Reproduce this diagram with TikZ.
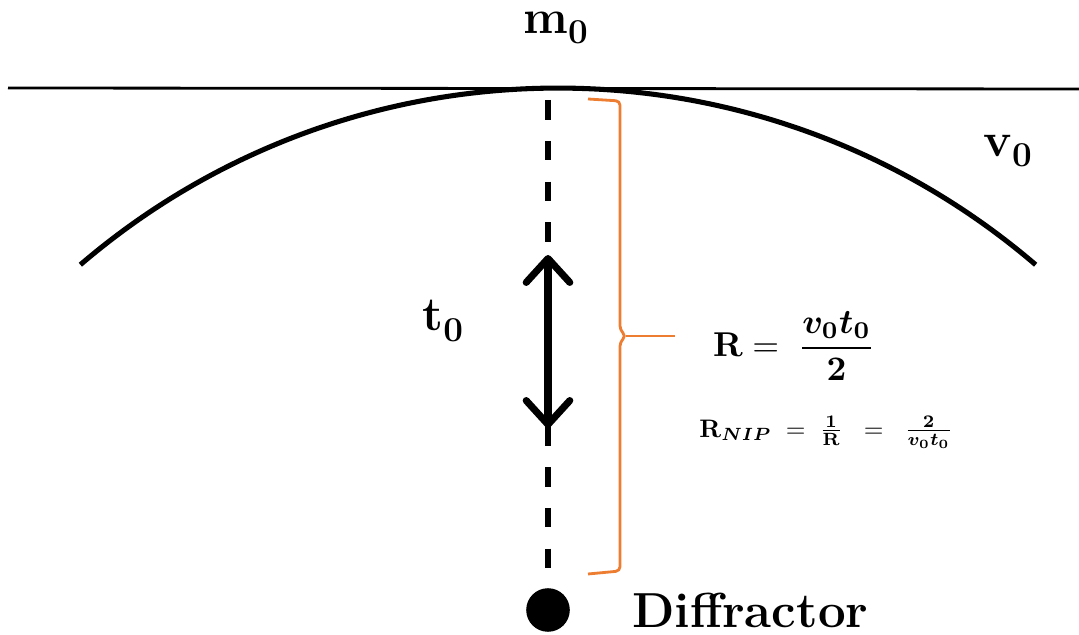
\documentclass[tikz,border=0pt]{standalone}
\usepackage{amsmath}
\usepackage{bm}
\usepackage{graphicx}
\usepackage{tikz}
\usetikzlibrary{arrows.meta, positioning}
\definecolor{braceorange}{RGB}{237,125,49}

\begin{document}
\begin{tikzpicture}[
    x=0.025cm, y=-0.025cm,
    label text/.style={font=\fontsize{34}{40}\selectfont\bfseries, inner sep=0pt},
    diff label/.style={font=\fontsize{35}{40}\selectfont\bfseries, inner sep=0pt},
    eq text/.style={inner sep=0pt},
    ray/.style={line width=4.2pt, dash pattern=on 14pt off 15pt},
    twoway/.style={line width=5pt, {Straight Barb[length=17pt,width=31pt,round]}-{Straight Barb[length=17pt,width=31pt,round]}},
    brace line/.style={braceorange, line width=2pt, rounded corners=3pt}
]
    \useasboundingbox (0,0) rectangle (1079,635);

    % surface and wavefront
    \draw[line width=2pt] (8,88) -- (1079,89);
    \draw[line width=3.6pt] (558,822) ++(-130.6:734) arc[start angle=-130.6, end angle=-49.4, radius=734];

    \node[label text] (m0) at (556,28) {m$_{\mathbf 0}$};
    \node[label text] (v0) at (1008,151) {v$_{\mathbf 0}$};
    \node[label text] (t0) at (443,321) {t$_{\mathbf 0}$};

    % diffractor and normal ray
    \node[circle, fill, minimum size=31pt, inner sep=0pt] (diff) at (548,610) {};
    \node[diff label, right=44pt of diff] (difftext) {Diffractor};
    \coordinate (rtop) at (548,100);
    \coordinate (rbot) at (548,570);
    \draw[ray] (rtop) -- (rbot);
    \coordinate (ttop) at (548,255);
    \coordinate (tbot) at (548,428);
    \draw[twoway] (ttop) -- (tbot);

    % radius brace
    \coordinate (btip) at (626,336);
    \draw[brace line] (588,99) -- (620,101) -- (620,330) -- (btip) -- (620,342) -- (620,571) -- (588,574);
    \draw[brace line] (btip) -- (675,336);

    \node[eq text] (radius) at (794,346) {\scalebox{2.45}{$\mathbf{R} = \;\dfrac{\bm{v_0t_0}}{\mathbf{2}}$}};
    \node[eq text] (nip) at (826,432) {\scalebox{1.8}{$\mathbf{R}_{\bm{NIP}} \;=\; \tfrac{\mathbf 1}{\mathbf R} \;\;=\;\; \tfrac{\mathbf 2}{\bm{v_0t_0}}$}};
\end{tikzpicture}
\end{document}
